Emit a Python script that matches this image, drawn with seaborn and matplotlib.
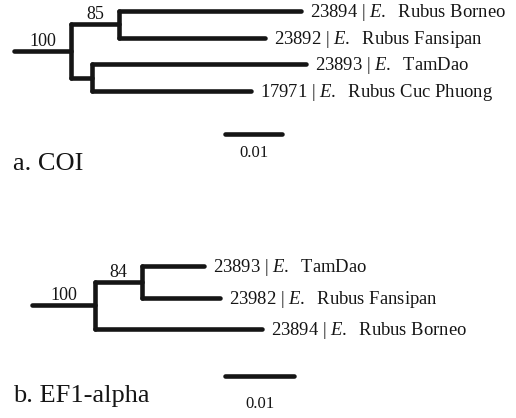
import matplotlib
matplotlib.use("Agg")
import matplotlib.pyplot as plt
import pandas as pd
import seaborn as sns

# ---- data -------------------------------------------------------------
# COI tree: ((Borneo, Fansipan)85, (TamDao, Cuc Phuong))100
coi_ids = ["23894", "23892", "23893", "17971"]
coi_taxa = ["Rubus Borneo", "Rubus Fansipan", "TamDao", "Rubus Cuc Phuong"]
coi_leaf_len = [0.0319, 0.0256, 0.0375, 0.0279]
coi_tree = ("root", [("c0", [0, 1]), ("c1", [2, 3])])
coi_node_len = {"root": 0.0100, "c0": 0.0084, "c1": 0.0037}
coi_support = {"root": "100", "c0": "85"}

# EF1-alpha tree: ((TamDao, Fansipan)84, Borneo)100
ef1_ids = ["23893", "23982", "23894"]
ef1_taxa = ["TamDao", "Rubus Fansipan", "Rubus Borneo"]
ef1_leaf_len = [0.0090, 0.0113, 0.0243]
ef1_tree = ("root", [("c0", [0, 1]), 2])
ef1_node_len = {"root": 0.0091, "c0": 0.0068}
ef1_support = {"root": "100", "c0": "84"}

scale_len = 0.01
scale_text = "0.01"
panel_titles = ["a. COI", "b. EF1-alpha"]

# ---- style ------------------------------------------------------------
sns.set_theme(style="white")
plt.rcParams["font.family"] = ["Liberation Serif", "DejaVu Serif"]
plt.rcParams["mathtext.fontset"] = "custom"
plt.rcParams["mathtext.it"] = "Liberation Serif:italic"
plt.rcParams["mathtext.rm"] = "Liberation Serif"

INK = "#151515"
LW = 3.3


def layout(tree, leaf_len, node_len):
    """Return segment table, leaf tips and internal branch midpoints."""
    rows, tips, branches = [], {}, {}
    seg = [0]

    def add(xs, ys):
        for x, y in zip(xs, ys):
            rows.append({"seg": seg[0], "x": x, "y": y})
        seg[0] += 1

    def walk(node, x0):
        if isinstance(node, int):
            x1 = x0 + leaf_len[node]
            add([x0, x1], [node, node])
            tips[node] = (x1, node)
            return node
        name, children = node
        x1 = x0 + node_len[name]
        ys = [walk(c, x1) for c in children]
        y = sum([min(ys), max(ys)]) / 2
        add([x0, x1], [y, y])
        add([x1, x1], [min(ys), max(ys)])
        branches[name] = ((x0 + x1) / 2, y)
        return y

    walk(tree, 0.0)
    return pd.DataFrame(rows), tips, branches


def draw_tree(ax, tree, leaf_len, node_len, support, ids, taxa,
              bar_x, bar_y, bar_label_dy):
    segs, tips, branches = layout(tree, leaf_len, node_len)
    bar = pd.DataFrame({"seg": [-1, -1], "x": [bar_x, bar_x + scale_len],
                        "y": [bar_y, bar_y]})
    segs = pd.concat([segs, bar], ignore_index=True)
    sns.lineplot(data=segs, x="x", y="y", units="seg", estimator=None,
                 sort=False, color=INK, linewidth=LW,
                 solid_capstyle="round", legend=False, ax=ax)
    for i, (x, y) in tips.items():
        ax.annotate(f"{ids[i]} | $E.$  {taxa[i]}", xy=(x, y),
                    xytext=(9, -6), textcoords="offset pixels",
                    ha="left", va="baseline", fontsize=13.4, color=INK)
    for name, lab in support.items():
        x, y = branches[name]
        ax.annotate(lab, xy=(x, y), xytext=(0, 5),
                    textcoords="offset pixels", ha="center",
                    va="baseline", fontsize=13, color=INK)
    ax.annotate(scale_text, xy=(bar_x + scale_len / 2, bar_y),
                xytext=(0, -bar_label_dy), textcoords="offset pixels",
                ha="center", va="baseline", fontsize=12, color=INK)
    ax.set_axis_off()


W, H = 516, 418
fig = plt.figure(figsize=(W / 100, H / 100), dpi=100)
fig.patch.set_facecolor("white")

# upper panel: COI
ax1 = fig.add_axes([0, 0.5, 1, 0.5])
px_x, px_y, root_px, top_px = 5700, 26.67, 14, 11
draw_tree(ax1, coi_tree, coi_leaf_len, coi_node_len, coi_support,
          coi_ids, coi_taxa, bar_x=(225 - root_px) / px_x,
          bar_y=(134 - top_px) / px_y, bar_label_dy=23)
ax1.set_xlim(-root_px / px_x, (W - root_px) / px_x)
ax1.set_ylim((209 - top_px) / px_y, -top_px / px_y)

# lower panel: EF1-alpha
ax2 = fig.add_axes([0, 0, 1, 0.5])
px_x, px_y, root_px, top_px = 6900, 31.5, 32, 57
draw_tree(ax2, ef1_tree, ef1_leaf_len, ef1_node_len, ef1_support,
          ef1_ids, ef1_taxa, bar_x=(225 - root_px) / px_x,
          bar_y=(376 - 209 - top_px) / px_y, bar_label_dy=32)
ax2.set_xlim(-root_px / px_x, (W - root_px) / px_x)
ax2.set_ylim((209 - top_px) / px_y, -top_px / px_y)

fig.text(13 / W, 1 - 170 / H, panel_titles[0], fontsize=19, color=INK,
         ha="left", va="baseline")
fig.text(13 / W, 1 - 402 / H, panel_titles[1], fontsize=19, color=INK,
         ha="left", va="baseline")

fig.savefig("out.png", dpi=100, facecolor="white")
